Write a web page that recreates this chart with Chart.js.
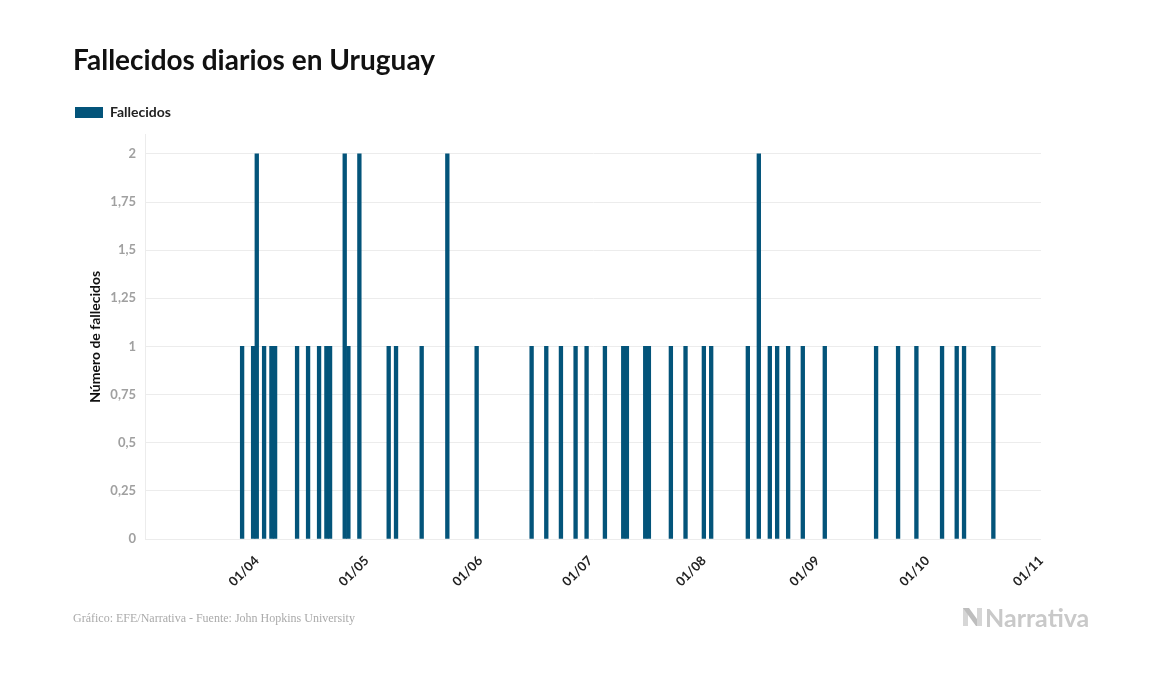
<!DOCTYPE html>
<html lang="es">
<head>
<meta charset="utf-8">
<title>Fallecidos diarios en Uruguay</title>
<script src="https://cdn.jsdelivr.net/npm/chart.js@4.4.1/dist/chart.umd.min.js"></script>
<style>
  html, body { margin: 0; padding: 0; background: #fff; }
  #wrap { position: relative; width: 1157px; height: 674px; }
  #source {
    position: absolute; left: 73px; top: 611px;
    font-family: "Liberation Serif", serif; font-size: 12px; color: #aaa;
  }
  #logo {
    position: absolute; left: 963px; top: 602px;
    font-family: "Lato", sans-serif; font-weight: bold; font-size: 25px; color: #c9c9c9;
    display: flex; align-items: center;
  }
  #logo svg { margin-right: 3px; }
</style>
</head>
<body>
<div id="wrap">
  <canvas id="chart-1"></canvas>
  <div id="source">Gráfico: EFE/Narrativa - Fuente: John Hopkins University</div>
  <div id="logo">
    <svg width="19" height="18" viewBox="0 0 19 18">
      <polygon points="0,0 5,0 5,18 0,18" fill="#d6d6d6"/>
      <polygon points="0,0 6,0 19,18 13,18" fill="#bdbdbd"/>
      <polygon points="14,0 19,0 19,18 14,18" fill="#d6d6d6"/>
    </svg>Narrativa
  </div>
</div>

<script>
// Data (days with at least one death, DD/MM 2020)

const deathDates = [
    '28/03', '31/03', '01/04', '03/04', '05/04', '06/04', '12/04', '15/04',
    '18/04', '20/04', '21/04', '25/04', '26/04', '29/04',
    '07/05', '09/05', '16/05', '23/05', '31/05',
    '15/06', '19/06', '23/06', '27/06', '30/06',
    '05/07', '10/07', '11/07', '16/07', '17/07', '23/07', '27/07',
    '01/08', '03/08', '13/08', '16/08', '19/08', '21/08', '24/08', '28/08',
    '03/09', '17/09', '23/09', '28/09',
    '05/10', '09/10', '11/10', '19/10',
];
const deathCounts = [
    1, 1, 2, 1, 1, 1, 1, 1,
    1, 1, 1, 2, 1, 2,
    1, 1, 1, 2, 1,
    1, 1, 1, 1, 1,
    1, 1, 1, 1, 1, 1, 1,
    1, 1, 1, 2, 1, 1, 1, 1,
    1, 1, 1, 1,
    1, 1, 1, 1,
];

const xTickLabels = ['01/04', '01/05', '01/06', '01/07', '01/08', '01/09', '01/10', '01/11'];
const yTickValues = [0, 0.25, 0.5, 0.75, 1, 1.25, 1.5, 1.75, 2];

// Day number counted from 1 March
const monthOffset = { '03': 0, '04': 31, '05': 61, '06': 92, '07': 122, '08': 153, '09': 184, '10': 214, '11': 245 };
function dayIndex(label) {
    const parts = label.split('/');
    return monthOffset[parts[1]] + Number(parts[0]) - 1;
}

const points = deathDates.map((d, i) => ({ x: dayIndex(d), y: deathCounts[i] }));
const xTickValues = xTickLabels.map(dayIndex);

const comma = v => String(v).replace('.', ',');

// Extra space between legend and plot
const legendMargin = {
    id: 'legendMargin',
    beforeInit(chart) {
        const fit = chart.legend.fit;
        chart.legend.fit = function () {
            fit.bind(chart.legend)();
            this.height += 5;
        };
    },
};

// Chart

const data1 = {
    datasets: [{
        label: 'Fallecidos',
        data: points,
        backgroundColor: '#03547a',
        borderWidth: 0,
        barPercentage: 1.0,
        categoryPercentage: 1.0,
    }],
};

const config1 = {
    type: 'bar',
    data: data1,
    plugins: [legendMargin],
    options: {
        responsive: true,
        maintainAspectRatio: false,
        animation: false,
        layout: {
            padding: { left: 73, right: 116, top: 44, bottom: 75 },
        },
        plugins: {
            tooltip: { enabled: false },
            title: {
                display: true,
                text: 'Fallecidos diarios en Uruguay',
                align: 'start',
                color: '#111',
                font: { family: 'Lato', size: 28, weight: 'bold' },
                padding: { top: 0, bottom: 26 },
            },
            legend: {
                display: true,
                position: 'top',
                align: 'start',
                labels: {
                    boxWidth: 28,
                    boxHeight: 11,
                    padding: 2,
                    color: '#222',
                    font: { family: 'Lato', size: 14, weight: 'bold' },
                },
            },
        },
        scales: {
            x: {
                type: 'linear',
                offset: false,
                min: 0.5,
                max: 245,
                grid: { display: false },
                border: { display: false },
                afterBuildTicks: scale => {
                    scale.ticks = xTickValues.map(v => ({ value: v }));
                },
                afterFit: scale => { scale.height = 60; },
                ticks: {
                    autoSkip: false,
                    minRotation: 45,
                    maxRotation: 45,
                    padding: 6,
                    color: '#222',
                    font: { family: 'Lato', size: 13, weight: 'bold' },
                    callback: value => xTickLabels[xTickValues.indexOf(value)],
                },
            },
            y: {
                min: 0,
                max: 2.1,
                grid: { color: '#ececec', drawTicks: false },
                border: { display: true, color: '#ececec' },
                afterBuildTicks: scale => {
                    scale.ticks = yTickValues.map(v => ({ value: v }));
                },
                afterFit: scale => { scale.width = 72; },
                ticks: {
                    padding: 9,
                    color: '#a0a0a0',
                    font: { family: 'Lato', size: 13, weight: 'bold' },
                    callback: value => comma(value),
                },
                title: {
                    display: true,
                    text: 'Número de fallecidos',
                    color: '#111',
                    font: { family: 'Lato', size: 14, weight: 'bold' },
                    padding: { top: 14, bottom: 0 },
                },
            },
        },
    },
};

const context1 = document.getElementById('chart-1').getContext('2d');
const chart1 = new Chart(context1, config1);
</script>
</body>
</html>
